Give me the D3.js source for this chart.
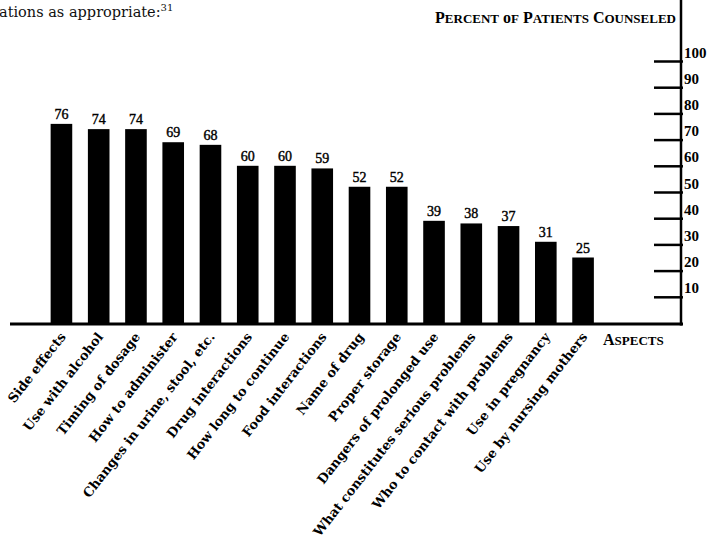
<!DOCTYPE html>
<html>
<head>
<meta charset="utf-8">
<script src="https://cdn.jsdelivr.net/npm/d3@7"></script>
<style>
  html, body { margin: 0; padding: 0; background: #fff; }
  svg { display: block; }
</style>
</head>
<body>
<div id="chart"></div>
<script>
// data
const aspects = [
  'Side effects', 'Use with alcohol', 'Timing of dosage', 'How to administer',
  'Changes in urine, stool, etc.', 'Drug interactions', 'How long to continue',
  'Food interactions', 'Name of drug', 'Proper storage', 'Dangers of prolonged use',
  'What constitutes serious problems', 'Who to contact with problems',
  'Use in pregnancy', 'Use by nursing mothers'
];
const percentCounseled = [76, 74, 74, 69, 68, 60, 60, 59, 52, 52, 39, 38, 37, 31, 25];
const axisTicks = [10, 20, 30, 40, 50, 60, 70, 80, 90, 100];

const Chart = (() => {

  const width = 710;
  const height = 540;
  const serif = '"Liberation Serif", "DejaVu Serif", serif';
  const wideSerif = '"DejaVu Serif", "Liberation Serif", serif';

  const baseY = 323;      // baseline of the bars
  const axisX = 681;      // vertical axis on the right

  // small caps by hand: first letter of each word large, the rest smaller
  function smallCaps(text, words, big, small) {
    words.forEach((w, i) => {
      text.append('tspan').attr('font-size', big).text((i ? ' ' : '') + w[0]);
      text.append('tspan').attr('font-size', small).text(w.slice(1).toUpperCase());
    });
  }

  function render() {
    const svg = d3.select('#chart')
      .append('svg')
      .attr('width', width)
      .attr('height', height)
      .style('font-family', serif);

    const x = d3.scaleBand()
      .domain(aspects)
      .range([32, 612.5])
      .paddingInner(0.42)
      .paddingOuter(0.5);

    const y = d3.scaleLinear()
      .domain([0, 100])
      .range([baseY, 61]);

    // running text cut off at the top of the page
    const intro = svg.append('text')
      .attr('x', -1)
      .attr('y', 17)
      .attr('font-family', wideSerif)
      .attr('font-size', 14.5)
      .attr('fill', '#111');
    intro.append('tspan').text('ations as appropriate:');
    intro.append('tspan').attr('font-size', 10).attr('dy', -6).text('31');

    // bars
    svg.selectAll('rect.bar')
      .data(percentCounseled)
      .enter()
      .append('rect')
      .attr('class', 'bar')
      .attr('x', (d, i) => x(aspects[i]))
      .attr('y', d => y(d))
      .attr('width', x.bandwidth())
      .attr('height', d => y(0) - y(d))
      .attr('fill', '#000');

    // value labels on top of each bar
    svg.selectAll('text.value')
      .data(percentCounseled)
      .enter()
      .append('text')
      .attr('class', 'value')
      .attr('x', (d, i) => x(aspects[i]) + x.bandwidth() / 2)
      .attr('y', d => y(d) - 5)
      .attr('text-anchor', 'middle')
      .attr('font-size', 14)
      .attr('stroke', '#000')
      .attr('stroke-width', 0.4)
      .text(d => d);

    // baseline
    svg.append('line')
      .attr('x1', 10).attr('x2', axisX + 2)
      .attr('y1', baseY + 1).attr('y2', baseY + 1)
      .attr('stroke', '#000')
      .attr('stroke-width', 3);

    // right hand axis, ticks reaching to the left
    const axis = svg.append('g')
      .attr('transform', `translate(${axisX},0)`)
      .call(d3.axisRight(y).tickValues(axisTicks).tickSize(-27).tickPadding(4));

    axis.select('.domain').remove();
    axis.selectAll('.tick line')
      .attr('x2', -27).attr('x1', 2)
      .attr('stroke', '#000')
      .attr('stroke-width', 2.5);
    axis.selectAll('.tick text')
      .attr('x', 3)
      .attr('dy', -4)
      .attr('fill', '#000')
      .attr('font-family', serif)
      .attr('font-size', 15)
      .attr('font-weight', 'bold');

    svg.append('line')
      .attr('x1', axisX).attr('x2', axisX)
      .attr('y1', 0).attr('y2', baseY + 2.5)
      .attr('stroke', '#000')
      .attr('stroke-width', 2.5);

    // axis titles
    const yTitle = svg.append('text')
      .attr('x', 676)
      .attr('y', 22.5)
      .attr('text-anchor', 'end')
      .attr('font-weight', 'bold');
    smallCaps(yTitle, ['Percent', 'of', 'Patients', 'Counseled'], 16, 13);

    const xTitle = svg.append('text')
      .attr('x', 603)
      .attr('y', 345)
      .attr('font-weight', 'bold');
    smallCaps(xTitle, ['Aspects'], 16, 13);

    // slanted category labels
    svg.selectAll('text.aspect')
      .data(aspects)
      .enter()
      .append('text')
      .attr('class', 'aspect')
      .attr('text-anchor', 'end')
      .attr('font-family', wideSerif)
      .attr('font-size', 13)
      .attr('font-weight', 'bold')
      .attr('transform', d => `translate(${x(d) + x.bandwidth() / 2 + 5},337) rotate(-52)`)
      .text(d => d);
  }

  return { render };

})();

Chart.render();
</script>
</body>
</html>
